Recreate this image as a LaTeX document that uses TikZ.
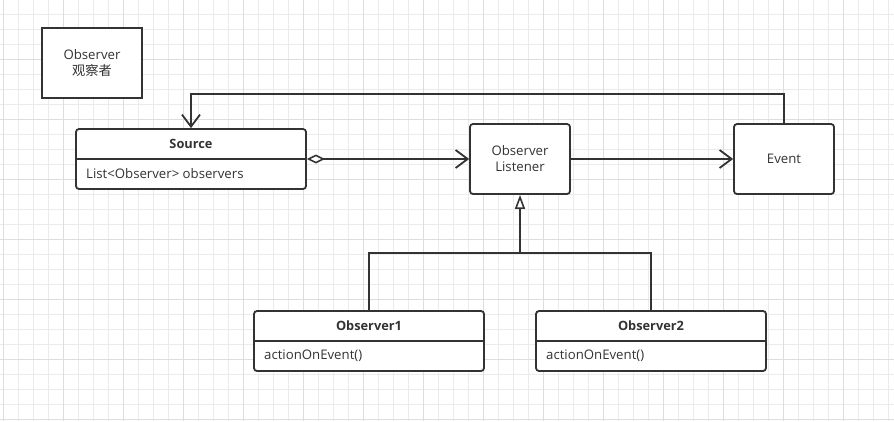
\documentclass[tikz,border=0pt]{standalone}
\usepackage{fontspec}
\setmainfont{Open Sans}
\newfontfamily\cjk{Noto Sans CJK SC}
\usetikzlibrary{arrows.meta}
\definecolor{linecol}{HTML}{333333}
\definecolor{gridlight}{HTML}{EBEBEB}
\definecolor{griddark}{HTML}{DDDDDD}
\begin{document}
\begin{tikzpicture}[x=1pt,y=-1pt,
  gridl/.style={draw=gridlight, line width=1pt},
  gridd/.style={draw=griddark, line width=1pt},
  boxbase/.style={draw=linecol, line width=1.8pt, fill=white, inner sep=0pt, align=center,
    text=linecol, font=\fontsize{13.2}{16}\selectfont},
  plainbox/.style={boxbase, minimum width=100pt, minimum height=70pt},
  roundbox/.style={boxbase, rounded corners=3pt, minimum width=100pt, minimum height=70pt},
  classbox/.style={boxbase, rounded corners=3pt, minimum width=230pt, minimum height=60pt},
  txt/.style={inner sep=0pt, text=linecol, font=\fontsize{13.2}{16}\selectfont},
  btxt/.style={txt, font=\fontsize{12.8}{16}\selectfont\bfseries},
  conn/.style={draw=linecol, line width=1.8pt},
  openarrow/.style={conn, -{Straight Barb[length=12pt, width=18pt, line width=1.8pt]}},
  aggarrow/.style={conn, {Diamond[open, length=18pt, width=9pt, line width=1.6pt]}-{Straight Barb[length=12pt, width=18pt, line width=1.8pt]}},
  inherit/.style={conn, -{Triangle[open, length=14pt, width=10pt, line width=1.6pt]}}
]
\useasboundingbox (0,0) rectangle (894,421);
\fill[white] (0,0) rectangle (894,421);
% grid
\foreach \k in {0,...,59} \draw[gridl] ({3+15*\k},0) -- ({3+15*\k},421);
\foreach \k in {1,...,28} \draw[gridl] (0,{-0.7+15*\k}) -- (894,{-0.7+15*\k});
\foreach \k in {0,...,14} \draw[gridd] ({3+60*\k},0) -- ({3+60*\k},421);
\foreach \k in {1,...,7} \draw[gridd] (0,{-0.7+60*\k}) -- (894,{-0.7+60*\k});

% nodes
\node[plainbox] (obs) at (92,63) {Observer\\{\cjk 观察者}};
\node[classbox] (source) at (191,159) {};
\draw[conn] (source.west) -- (source.east);
\node[btxt] (sourcet) at (191,144) {Source};
\node[txt, anchor=west] (sourcea) at (86,174) {List<Observer> observers};

\node[roundbox] (listener) at (520,159) {Observer\\Listener};
\node[roundbox] (event) at (784,159) {Event};

\node[classbox] (o1) at (369,341) {};
\draw[conn] (o1.west) -- (o1.east);
\node[btxt] (o1t) at (369,326) {Observer1};
\node[txt, anchor=west] (o1a) at (264,356) {actionOnEvent()};

\node[classbox] (o2) at (651,341) {};
\draw[conn] (o2.west) -- (o2.east);
\node[btxt] (o2t) at (651,326) {Observer2};
\node[txt, anchor=west] (o2a) at (546,356) {actionOnEvent()};

% connectors
\draw[aggarrow] (source.east) -- (listener.west);
\draw[openarrow] (listener.east) -- (event.west);
\coordinate (fb) at (191,94);
\draw[openarrow] (event.north) |- (fb) -- (source.north);
\coordinate (j) at (520,253);
\draw[conn] (o1.north) |- (j) -| (o2.north);
\draw[inherit] (j) -- (listener.south);
\end{tikzpicture}
\end{document}
